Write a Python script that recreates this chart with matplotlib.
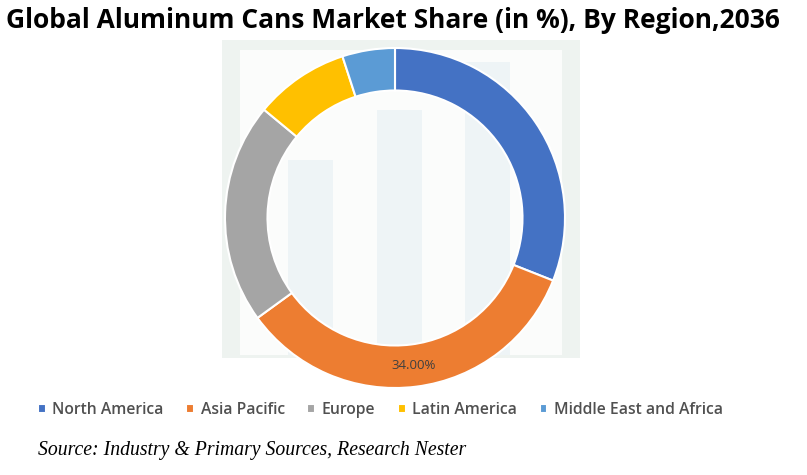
import matplotlib.pyplot as plt
from matplotlib.patches import Rectangle
import numpy as np

# data
regions = ["North America", "Asia Pacific", "Europe", "Latin America", "Middle East and Africa"]
shares = [31, 34, 21, 9, 5]
colors = ["#4472C4", "#ED7D31", "#A5A5A5", "#FFC000", "#5B9BD5"]
shown_label = "Asia Pacific"

fig = plt.figure(figsize=(8.07, 4.75), dpi=100)

# faint watermark in the background
bg = fig.add_axes([0, 0, 1, 1], zorder=0)
bg.set_xlim(0, 807)
bg.set_ylim(475, 0)
bg.axis("off")
bg.add_patch(Rectangle((222, 40), 358, 318, color="#eef3f0", lw=0))
bg.add_patch(Rectangle((240, 50), 322, 305, color="#fbfcfb", lw=0))
for x0, top in [(288, 160), (377, 110), (465, 62)]:
    bg.add_patch(Rectangle((x0, top), 45, 355 - top, color="#eef4f6", lw=0))

# donut
ax = fig.add_axes([225 / 807, 1 - 388 / 475, 340 / 807, 340 / 475], zorder=1)
wedges, texts = ax.pie(shares, colors=colors, startangle=90, counterclock=False,
                       radius=1, wedgeprops=dict(width=0.25, edgecolor="white", linewidth=1.5))
ax.set_xlim(-1, 1)
ax.set_ylim(-1, 1)
ax.set_aspect("equal")

i = regions.index(shown_label)
start = 90 - sum(shares[:i]) / 100 * 360
mid = start - shares[i] / 100 * 360 / 2
r = 0.875
ax.text(r * np.cos(np.radians(mid)), r * np.sin(np.radians(mid)), f"{shares[i]:.2f}%",
        ha="center", va="center", fontsize=9.5, color="#404040", family="Open Sans")

fig.text(6 / 807, 1 - 20 / 475, "Global Aluminum Cans Market Share (in %), By Region,2036",
         fontsize=19, fontweight="bold", family="Open Sans", va="center", ha="left", color="black")

leg = fig.legend(wedges, regions, loc="center left", bbox_to_anchor=(24 / 807, 1 - 410 / 475),
                 ncol=5, frameon=False, handlelength=0.5, handleheight=0.5, handletextpad=0.4,
                 columnspacing=1.45, prop={"family": "Open Sans", "size": 11.3, "weight": "semibold"})
for t in leg.get_texts():
    t.set_color("#505050")

fig.text(38 / 807, 1 - 451 / 475, "Source: Industry & Primary Sources, Research Nester",
         fontsize=14.2, style="italic", family="Liberation Serif", va="center", ha="left", color="black")

fig.savefig("out.png", dpi=100)
